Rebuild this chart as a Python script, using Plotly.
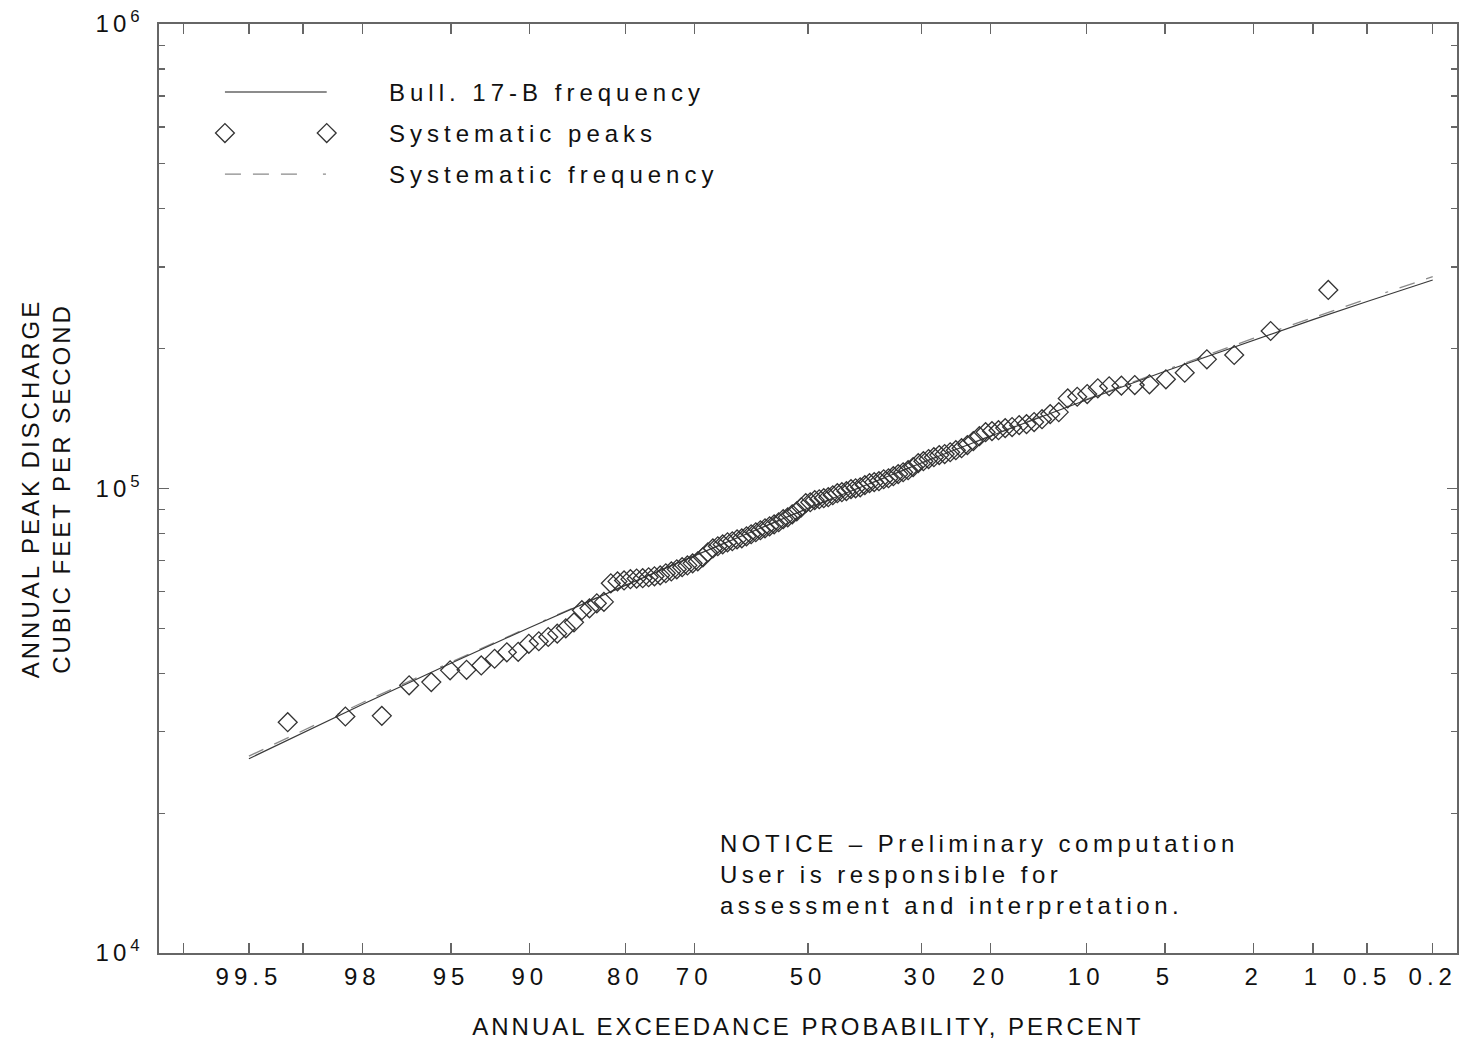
import plotly.graph_objects as go
from statistics import NormalDist

# ---------------- data ----------------
# Systematic annual peaks, ranked largest to smallest (cfs)
peaks = [
    267600, 218300, 193800, 189700, 177500, 171800, 167600, 167000, 166500, 166000,
    164300, 159700, 157600, 156300, 146000, 144600, 141000, 139000, 137600, 136900,
    135600, 134900, 133500, 132900, 132200, 129600, 126500, 124000, 122100, 120900,
    119700, 118600, 118000, 116800, 115700, 114500, 113400, 111200, 109500, 108400,
    107400, 106300, 105200, 104700, 103700, 103200, 102700, 101700, 100600, 100100,
    99700, 98700, 98200, 97700, 96700, 95800, 95300, 94800, 94400, 93400,
    93000, 91100, 89300, 88000, 86700, 85900, 84600, 83700, 82900, 82100,
    81300, 80500, 79700, 78900, 78100, 77700, 77000, 76600, 75800, 75100,
    74300, 72900, 71100, 69700, 69000, 68300, 67700, 67000, 66300, 65700,
    65000, 64700, 64400, 64100, 64000, 63800, 63400, 63100, 62500, 57000,
    56600, 55200, 54700, 51500, 50000, 48700, 47900, 46900, 46300, 44500,
    44400, 43000, 41600, 40700, 40600, 38300, 37700, 32400, 32300, 31400,
]

# Frequency curves at standard exceedance probabilities (percent)
curve_prob = [99.5, 99, 98, 95, 90, 80, 70, 50, 30, 20, 10, 5, 2, 1, 0.5, 0.2]
bull17b_q = [26200, 29830, 34280, 42060, 50210, 61850, 71620, 90640, 113640,
             129740, 155060, 178830, 208920, 231000, 252700, 281100]
systematic_q = [26540, 30150, 34570, 42280, 50370, 61940, 71660, 90640, 113700,
                129920, 155560, 179780, 210650, 233500, 256000, 285700]

# Axis ticks
x_tick_prob = [99.5, 98, 95, 90, 80, 70, 50, 30, 20, 10, 5, 2, 1, 0.5, 0.2]
x_tick_text = ["99.5", "98", "95", "90", "80", "70", "50", "30", "20",
               "10", "5", "2", "1", "0.5", "0.2"]
x_unlabeled_prob = [99.8, 99]
y_major = [1e4, 1e5, 1e6]
y_major_text = ["10<sup>4</sup>", "10<sup>5</sup>", "10<sup>6</sup>"]
y_minor = [m * d for d in (1e4, 1e5) for m in range(2, 10)]

x_title = "ANNUAL EXCEEDANCE PROBABILITY, PERCENT"
y_title = "ANNUAL PEAK DISCHARGE<br>CUBIC FEET PER SECOND"
legend_labels = ["Bull. 17-B frequency", "Systematic peaks", "Systematic frequency"]
notice_text = ("NOTICE – Preliminary computation<br>User is responsible for<br>"
               "assessment and interpretation.")

# ---------------- helpers ----------------
nd = NormalDist()


def zscore(p_exceed_pct):
    return nd.inv_cdf(1.0 - p_exceed_pct / 100.0)


n = len(peaks)
peak_prob = [100.0 * (i + 1) / (n + 1) for i in range(n)]  # Weibull plotting positions

FONT = "Liberation Sans, Arial, Helvetica, sans-serif"
TXT = "#111111"
AX = "#666666"
DASH = "16px,12px,16px,12px,16px,26px,3px,12px"

fig = go.Figure()

fig.add_trace(go.Scatter(
    x=[zscore(p) for p in curve_prob], y=systematic_q, mode="lines",
    line=dict(color="#8a8a8a", width=1.3, dash=DASH), showlegend=False,
    name="Systematic frequency"))
fig.add_trace(go.Scatter(
    x=[zscore(p) for p in curve_prob], y=bull17b_q, mode="lines",
    line=dict(color="#3a3a3a", width=1.2), showlegend=False,
    name="Bull. 17-B frequency"))
fig.add_trace(go.Scatter(
    x=[zscore(p) for p in peak_prob], y=peaks, mode="markers",
    marker=dict(symbol="diamond-open", size=14.5, color="#333333",
                line=dict(width=1.3, color="#333333")),
    showlegend=False, name="Systematic peaks"))

# ---- hand-made legend on an overlay axis (0..1 coordinates) ----
lx0, lx1 = 0.0508, 0.1292
rows = [0.9268, 0.8826, 0.8385]
fig.add_trace(go.Scatter(x=[lx0, lx1], y=[rows[0]] * 2, mode="lines",
                         line=dict(color="#666666", width=1.3),
                         xaxis="x2", yaxis="y2", showlegend=False, hoverinfo="skip"))
fig.add_trace(go.Scatter(x=[lx0, lx1], y=[rows[1]] * 2, mode="markers",
                         marker=dict(symbol="diamond-open", size=14.5, color="#333333",
                                     line=dict(width=1.3, color="#333333")),
                         xaxis="x2", yaxis="y2", showlegend=False, hoverinfo="skip"))
fig.add_trace(go.Scatter(x=[lx0, lx1], y=[rows[2]] * 2, mode="lines",
                         line=dict(color="#8a8a8a", width=1.3, dash=DASH),
                         xaxis="x2", yaxis="y2", showlegend=False, hoverinfo="skip"))

annotations = []
for lab, ry in zip(legend_labels, rows):
    annotations.append(dict(text=lab, xref="paper", yref="paper", x=0.176, y=ry,
                            xanchor="left", yanchor="middle", align="left",
                            showarrow=False, font=dict(family=FONT, size=24, color=TXT)))
annotations.append(dict(text=notice_text, xref="paper", yref="paper", x=0.4308, y=0.1345,
                        xanchor="left", yanchor="top", align="left", showarrow=False,
                        font=dict(family=FONT, size=24, color=TXT)))

fig.update_layout(
    width=1466, height=1047,
    margin=dict(l=159, r=7, t=24, b=94),
    paper_bgcolor="white", plot_bgcolor="white",
    font=dict(family=FONT, size=24, color=TXT),
    showlegend=False,
    annotations=annotations,
    xaxis=dict(
        range=[-2.99, 2.99], tickmode="array",
        tickvals=[zscore(p) for p in x_tick_prob], ticktext=x_tick_text,
        ticks="inside", ticklen=10, tickwidth=1.3, tickcolor=AX,
        showline=True, linecolor=AX, linewidth=1.6, mirror="ticks",
        showgrid=False, zeroline=False, ticklabelstandoff=2,
        tickfont=dict(family=FONT, size=24, color=TXT),
        title=dict(text=x_title, standoff=29, font=dict(family=FONT, size=24, color=TXT)),
        minor=dict(tickmode="array", tickvals=[zscore(p) for p in x_unlabeled_prob],
                   ticks="inside", ticklen=10, tickwidth=1.3, tickcolor=AX,
                   showgrid=False),
    ),
    yaxis=dict(
        type="log", range=[4, 6], tickmode="array",
        tickvals=y_major, ticktext=y_major_text,
        ticks="inside", ticklen=10, tickwidth=1.3, tickcolor=AX,
        showline=True, linecolor=AX, linewidth=1.6, mirror="ticks",
        showgrid=False, zeroline=False, ticklabelstandoff=9,
        tickfont=dict(family=FONT, size=24, color=TXT),
        title=dict(text=y_title, standoff=30, font=dict(family=FONT, size=24, color=TXT)),
        minor=dict(tickmode="array", tickvals=y_minor, ticks="inside",
                   ticklen=6, tickwidth=1.3, tickcolor=AX, showgrid=False),
    ),
    xaxis2=dict(range=[0, 1], overlaying="x", visible=False, fixedrange=True),
    yaxis2=dict(range=[0, 1], overlaying="y", visible=False, fixedrange=True),
)

post = """
document.body.style.margin = '0';
document.body.style.padding = '0';
document.body.style.overflow = 'hidden';
var st = document.createElement('style');
st.textContent = '.xtick text{letter-spacing:5px}' +
  '.ytick text{letter-spacing:4px}' +
  '.g-xtitle text, .g-ytitle text{letter-spacing:3px}' +
  '.annotation text{letter-spacing:5px}' +
  '.annotation[data-index="3"] text{letter-spacing:4.5px}';
document.head.appendChild(st);
"""

fig.write_html("out.html", post_script=post,
               config={"displayModeBar": False, "staticPlot": True})
